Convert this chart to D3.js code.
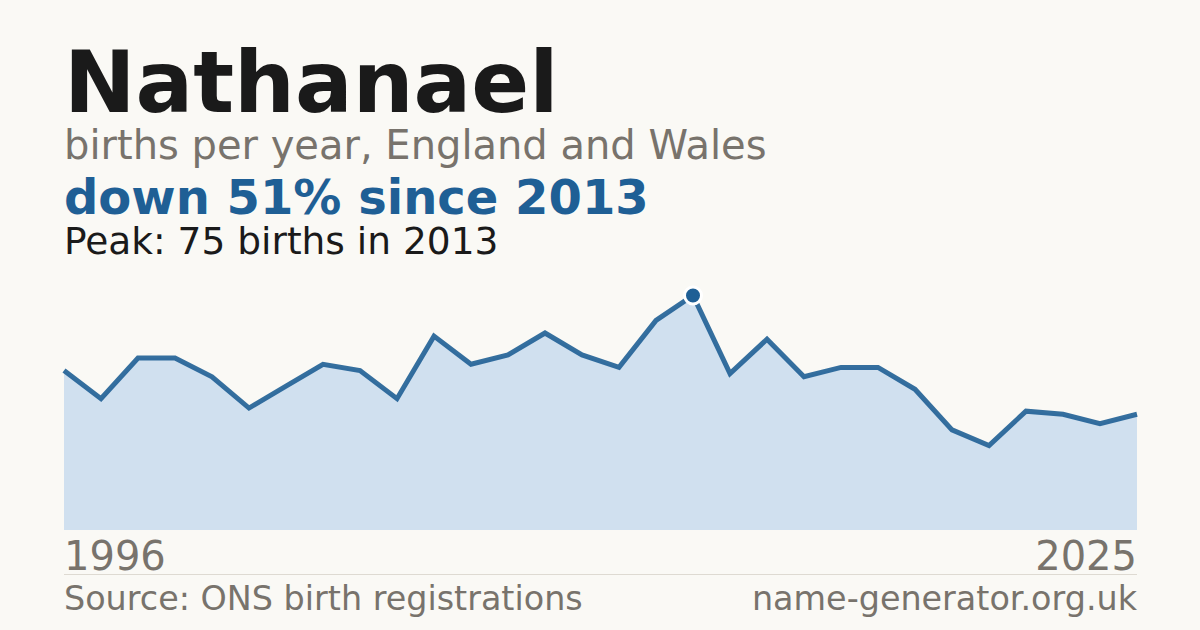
<!DOCTYPE html>
<html>
<head>
<meta charset="utf-8">
<script src="https://cdn.jsdelivr.net/npm/d3@7"></script>
<style>
  html, body { margin: 0; padding: 0; background: #faf9f5; }
  svg { display: block; font-family: "DejaVu Sans", sans-serif; }
</style>
</head>
<body>
<div class="chart-section"></div>
<script>
const years = [
  1996, 1997, 1998, 1999, 2000, 2001, 2002, 2003, 2004, 2005,
  2006, 2007, 2008, 2009, 2010, 2011, 2012, 2013, 2014, 2015,
  2016, 2017, 2018, 2019, 2020, 2021, 2022, 2023, 2024, 2025,
];
const births = [
  51, 42, 55, 55, 49, 39, 46, 53, 51, 42,
  62, 53, 56, 63, 56, 52, 67, 75, 50, 61,
  49, 52, 52, 45, 32, 27, 38, 37, 34, 37,
];
const nameTitle = "Nathanael";
const subtitle = "births per year, England and Wales";
const sourceText = "Source: ONS birth registrations";
const siteText = "name-generator.org.uk";

const width = 1200,
  height = 630;
const marginLeft = 64,
  marginRight = 63,
  chartTop = 272,
  chartBottom = 530;

const dataset = years.map((year, i) => ({ year, value: births[i] }));

// peak and change since peak
const peak = dataset.reduce((a, b) => (b.value > a.value ? b : a));
const last = dataset[dataset.length - 1];
const change = Math.round((1 - last.value / peak.value) * 100);

const svg = d3
  .select(".chart-section")
  .append("svg")
  .attr("width", width)
  .attr("height", height);

svg
  .append("rect")
  .attr("width", width)
  .attr("height", height)
  .attr("fill", "#faf9f5");

const xScale = d3
  .scaleLinear()
  .domain([d3.min(years), d3.max(years)])
  .range([marginLeft, width - marginRight]);

const yScale = d3
  .scaleLinear()
  .domain([0, peak.value * 1.1])
  .range([chartBottom, chartTop]);

// headings
svg
  .append("text")
  .text(nameTitle)
  .attr("x", marginLeft)
  .attr("y", 112)
  .attr("font-size", 85.5)
  .attr("font-weight", "bold")
  .attr("fill", "#1a1a1a");

svg
  .append("text")
  .text(subtitle)
  .attr("x", marginLeft)
  .attr("y", 159)
  .attr("font-size", 40)
  .attr("fill", "#78736c");

svg
  .append("text")
  .text(`down ${change}% since ${peak.year}`)
  .attr("x", marginLeft)
  .attr("y", 214)
  .attr("font-size", 48)
  .attr("font-weight", "bold")
  .attr("fill", "#1f5f95");

svg
  .append("text")
  .text(`Peak: ${peak.value} births in ${peak.year}`)
  .attr("x", marginLeft)
  .attr("y", 254)
  .attr("font-size", 37.5)
  .attr("fill", "#1a1a1a");

// area + line
const area = d3
  .area()
  .x((d) => xScale(d.year))
  .y0(yScale(0))
  .y1((d) => yScale(d.value));

const line = d3
  .line()
  .x((d) => xScale(d.year))
  .y((d) => yScale(d.value));

svg
  .append("path")
  .datum(dataset)
  .attr("d", area)
  .attr("fill", "#d0e0ef");

svg
  .append("path")
  .datum(dataset)
  .attr("d", line)
  .attr("fill", "none")
  .attr("stroke", "#1f5f95")
  .attr("stroke-width", 5)
  .attr("stroke-opacity", 0.9)
  .attr("stroke-linejoin", "miter");

svg
  .append("circle")
  .attr("cx", xScale(peak.year))
  .attr("cy", yScale(peak.value))
  .attr("r", 8.5)
  .attr("fill", "#1f5f95")
  .attr("stroke", "#ffffff")
  .attr("stroke-width", 3);

// year labels
svg
  .append("text")
  .text(years[0])
  .attr("x", xScale(years[0]))
  .attr("y", 570)
  .attr("font-size", 40)
  .attr("fill", "#78736c");

svg
  .append("text")
  .text(years[years.length - 1])
  .attr("x", xScale(years[years.length - 1]))
  .attr("y", 570)
  .attr("text-anchor", "end")
  .attr("font-size", 40)
  .attr("fill", "#78736c");

// footer
svg
  .append("line")
  .attr("x1", marginLeft)
  .attr("x2", width - marginRight)
  .attr("y1", 574.5)
  .attr("y2", 574.5)
  .attr("stroke", "#dedad2")
  .attr("stroke-width", 1);

svg
  .append("text")
  .text(sourceText)
  .attr("x", marginLeft)
  .attr("y", 610)
  .attr("font-size", 33.4)
  .attr("fill", "#78736c");

svg
  .append("text")
  .text(siteText)
  .attr("x", width - marginRight)
  .attr("y", 610)
  .attr("text-anchor", "end")
  .attr("font-size", 33.4)
  .attr("fill", "#78736c");
</script>
</body>
</html>
